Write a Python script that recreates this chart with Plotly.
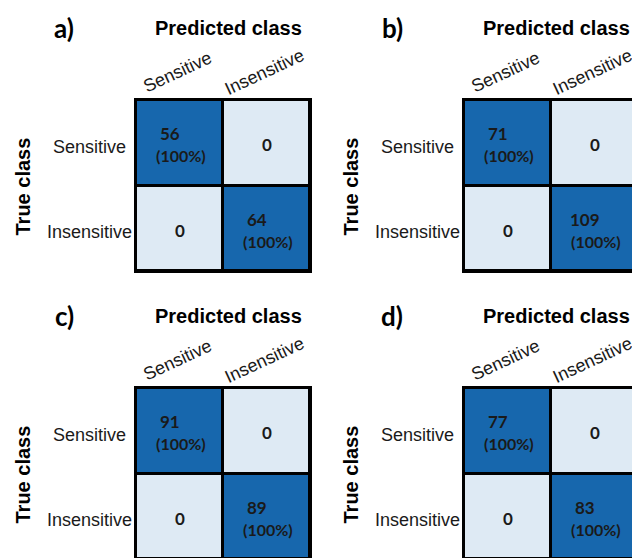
import plotly.graph_objects as go

# ---- data ----
class_labels = ["Sensitive", "Insensitive"]
panel_letters = ["a)", "b)", "c)", "d)"]
counts_a = [[56, 0], [0, 64]]
counts_b = [[71, 0], [0, 109]]
counts_c = [[91, 0], [0, 89]]
counts_d = [[77, 0], [0, 83]]
all_counts = [counts_a, counts_b, counts_c, counts_d]

# ---- style ----
W, H = 632, 558
DARK = "#1767ad"
LIGHT = "#deeaf4"
LABEL_FONT = "Arial, Liberation Sans, sans-serif"
NUM_FONT = "Lato, sans-serif"
TXT = "#1a1a1a"

CELL_W, CELL_H = 87, 85.5
# (left, top, right_visible, bottom_visible, cut_right, cut_bottom)
panels_px = [
    (136, 100, 310, 271, False, False),
    (464, 100, 632, 271, True, False),
    (136, 388, 310, 558, False, True),
    (464, 388, 632, 558, True, True),
]


def px_x(v):
    return v / W


def px_y(v):
    return 1 - v / H


fig = go.Figure()
annotations = []
for k, (counts, letter) in enumerate(zip(all_counts, panel_letters)):
    left, top, right, bottom, cut_r, cut_b = panels_px[k]
    xr_end = -0.5 + (right - left) / CELL_W
    yr_end = -0.5 + (bottom - top) / CELL_H
    row_tot = [sum(r) for r in counts]
    norm = [[counts[i][j] / row_tot[i] for j in range(2)] for i in range(2)]
    sfx = "" if k == 0 else str(k + 1)
    fig.add_trace(go.Heatmap(
        x=[0, 1], y=[0, 1], z=norm, zmin=0, zmax=1,
        colorscale=[[0, LIGHT], [1, DARK]], showscale=False,
        xgap=3, ygap=3, hoverinfo="skip",
        xaxis="x" + sfx, yaxis="y" + sfx,
    ))
    fig.update_layout(**{
        "xaxis" + sfx: dict(domain=[px_x(left), px_x(right)], range=[-0.5, xr_end],
                            side="top",
                            showticklabels=False, ticks="", showgrid=False, zeroline=False,
                            showline=True, linecolor="black", linewidth=2,
                            mirror=not cut_b,
                            anchor="y" + sfx, fixedrange=True),
        "yaxis" + sfx: dict(domain=[px_y(bottom), px_y(top)], range=[yr_end, -0.5],
                            showticklabels=False, ticks="", showgrid=False, zeroline=False,
                            showline=True, linecolor="black", linewidth=2,
                            mirror=not cut_r,
                            anchor="x" + sfx, fixedrange=True),
    })
    xr, yr = "x" + sfx, "y" + sfx
    # cell texts
    for i in range(2):
        for j in range(2):
            c = counts[i][j]
            if c > 0:
                pct = 100 * c / row_tot[i]
                annotations.append(dict(x=j, y=i, xref=xr, yref=yr, text=f"<b>{c}</b>",
                                        showarrow=False, xshift=-10, yshift=9,
                                        font=dict(family=NUM_FONT, size=17, color=TXT)))
                annotations.append(dict(x=j, y=i, xref=xr, yref=yr, text=f"<b>({pct:.0f}%)</b>",
                                        showarrow=False, xshift=1, yshift=-13,
                                        font=dict(family=NUM_FONT, size=16, color=TXT)))
            else:
                annotations.append(dict(x=j, y=i, xref=xr, yref=yr, text=f"<b>{c}</b>",
                                        showarrow=False, yshift=-2,
                                        font=dict(family=NUM_FONT, size=17, color=TXT)))
    # column labels (rotated)
    for j, lab in enumerate(class_labels):
        annotations.append(dict(x=j, y=-0.5, xref=xr, yref=yr, text=lab, showarrow=False,
                                textangle=-25, xshift=-2, yshift=28,
                                font=dict(family=LABEL_FONT, size=18, color=TXT)))
    # row labels
    for i, lab in enumerate(class_labels):
        annotations.append(dict(x=-0.5, y=i, xref=xr, yref=yr, text=lab, showarrow=False,
                                xanchor="center", xshift=-47, yshift=-4,
                                font=dict(family=LABEL_FONT, size=18, color=TXT)))
    # titles
    annotations.append(dict(x=0.5, y=-0.5, xref=xr, yref=yr, text="<b>Predicted class</b>",
                            showarrow=False, xshift=5, yshift=72,
                            font=dict(family=LABEL_FONT, size=20, color="black")))
    annotations.append(dict(x=-0.5, y=0.5, xref=xr, yref=yr, text="<b>True class</b>",
                            showarrow=False, textangle=-90, xshift=-114, yshift=-1,
                            font=dict(family=LABEL_FONT, size=20, color="black")))
    annotations.append(dict(x=-0.5, y=-0.5, xref=xr, yref=yr, text=f"<b>{letter}</b>",
                            showarrow=False, xshift=-72, yshift=72,
                            font=dict(family=NUM_FONT, size=26, color="black")))

fig.update_layout(
    width=W, height=H, margin=dict(l=0, r=0, t=0, b=0),
    paper_bgcolor="white", plot_bgcolor="black",
    annotations=annotations, showlegend=False,
)
fig.write_html("out.html", config={"displayModeBar": False},
               post_script="document.body.style.margin='0';document.body.style.overflow='hidden';")
